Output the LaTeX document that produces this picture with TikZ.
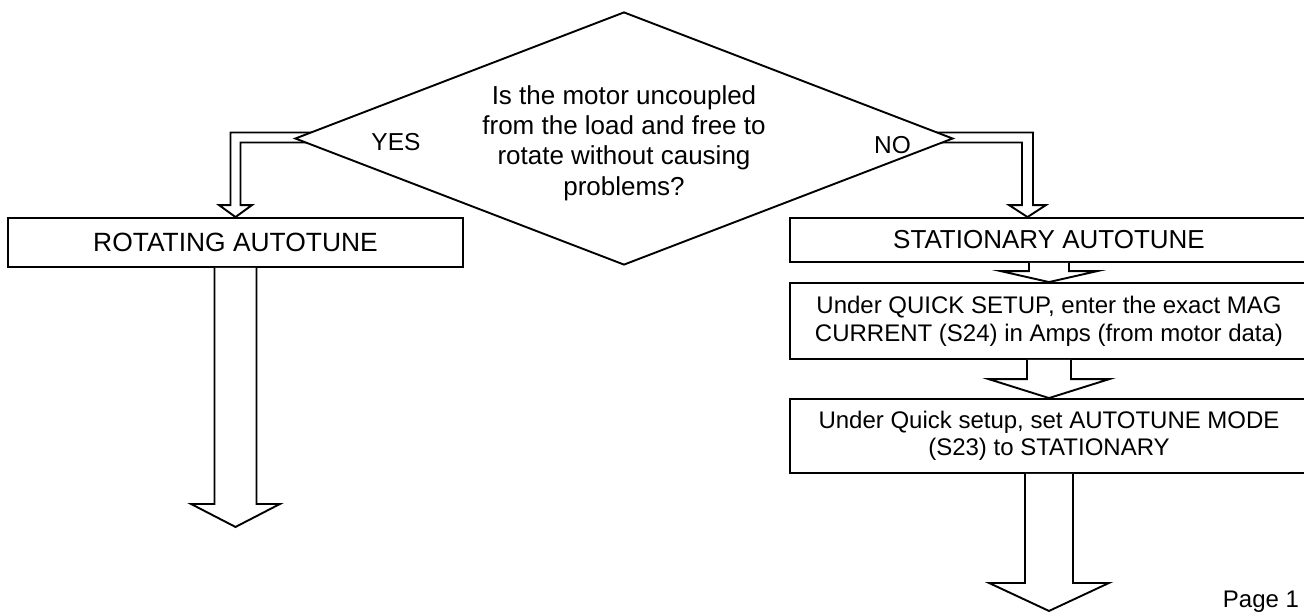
\documentclass[tikz,border=0pt]{standalone}
\usepackage{fontspec}
\setmainfont{Liberation Sans}
\usetikzlibrary{shapes.geometric,calc,backgrounds}
\newcommand\blkdown[5]{%
  \draw[arr] ($(#1)+(-#3,0)$) -- ($(#2)+(-#3,-#5)$) -- ($(#2)+(-#4,-#5)$) -- (#2)
    -- ($(#2)+(#4,-#5)$) -- ($(#2)+(#3,-#5)$) -- ($(#1)+(#3,0)$);}
\begin{document}
\begin{tikzpicture}[x=1pt,y=-1pt,
  box/.style={draw,line width=1.9pt,rectangle,inner sep=0pt,align=center},
  dia/.style={draw,line width=1.9pt,diamond,fill=white,inner sep=0pt},
  arr/.style={draw,line width=1.9pt,fill=white,line join=miter},
  lbl/.style={inner sep=0pt,font=\fontsize{24.5}{28}\selectfont}]
\useasboundingbox (0,0) rectangle (1304,611);
\clip (0,0) rectangle (1304,611);
% decision
\node[dia, minimum width=658pt, minimum height=253pt] (q) at (624,138.5) {};
\node[inner sep=0pt, align=center, font=\fontsize{26}{30.3}\selectfont] (qt) at (624,143)
  {Is the motor uncoupled\\from the load and free to\\rotate without causing\\problems?};
% boxes
\node[box, minimum width=455pt, minimum height=49pt, font=\fontsize{26.4}{30}\selectfont] (rot) at (235.5,242.5) {ROTATING AUTOTUNE};
\node[box, minimum width=518pt, minimum height=44pt, font=\fontsize{26}{30}\selectfont] (st) at (1049,240) {STATIONARY AUTOTUNE};
\node[box, minimum width=518pt, minimum height=76pt, font=\fontsize{24}{28}\selectfont] (mag) at (1049,321)
  {Under QUICK SETUP, enter the exact MAG\\CURRENT (S24) in Amps (from motor data)};
\node[box, minimum width=518pt, minimum height=74pt, font=\fontsize{24}{27}\selectfont] (mode) at (1049,436)
  {Under Quick setup, set AUTOTUNE MODE\\(S23) to STATIONARY};
% labels
\node[lbl, anchor=base] (yes) at (396,150) {YES};
\node[lbl, anchor=base] (no) at (892.5,153) {NO};
\node[lbl, anchor=base west, font=\fontsize{24}{28}\selectfont] (page) at (1222.7,607) {Page 1};
% elbow arrows from the decision
\coordinate (ntip) at ($(st.north)+(-21.5,0)$);
\begin{scope}[on background layer]
\draw[arr] ($(q.west)+(30,-6)$) -| ($(rot.north)+(-5,-12)$) -- ($(rot.north)+(-16.5,-12)$) -- (rot.north)
  -- ($(rot.north)+(16.5,-12)$) -- ($(rot.north)+(5,-12)$) |- ($(q.west)+(30,4)$) -- cycle;
\draw[arr] ($(q.east)+(-30,-6)$) -| ($(ntip)+(5.5,-12)$) -- ($(ntip)+(18.5,-12)$) -- (ntip)
  -- ($(ntip)+(-18.5,-12)$) -- ($(ntip)+(-5.5,-12)$) |- ($(q.east)+(-30,4)$) -- cycle;
\end{scope}
% straight arrows
\coordinate (rtip) at ($(rot.south)+(0,259)$);
\coordinate (mtip) at ($(mode.south)+(0,137)$);
\blkdown{rot.south}{rtip}{21}{44.5}{23}
\blkdown{st.south}{mag.north}{20}{48.5}{11}
\blkdown{mag.south}{mode.north}{22}{60.5}{19}
\blkdown{mode.south}{mtip}{24}{60}{28}
\end{tikzpicture}
\end{document}
